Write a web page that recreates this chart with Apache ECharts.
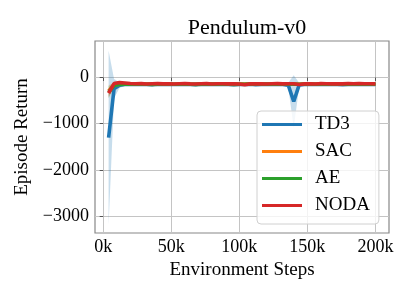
<!DOCTYPE html>
<html>
<head>
<meta charset="utf-8">
<script src="https://cdn.jsdelivr.net/npm/echarts@6/dist/echarts.min.js"></script>
<style>
html,body{margin:0;padding:0;background:#fff;}
#chart{width:415px;height:297px;}
</style>
</head>
<body>
<div id="chart"></div>
<script>
const steps = [4000,8000,12000,16000,20000,24000,28000,32000,36000,40000,44000,48000,52000,56000,60000,64000,68000,72000,76000,80000,84000,88000,92000,96000,100000,104000,108000,112000,116000,120000,124000,128000,132000,136000,140000,144000,148000,152000,156000,160000,164000,168000,172000,176000,180000,184000,188000,192000,196000,200000];
const xTicks = [0, 50000, 100000, 150000, 200000];
const yTicks = [-3000, -2000, -1000, 0];
const seriesNames = ['TD3', 'SAC', 'AE', 'NODA'];

const td3Mean = [-1300,-240,-165,-150,-148,-152,-145,-150,-155,-147,-150,-146,-152,-149,-145,-150,-153,-147,-150,-148,-152,-146,-150,-155,-148,-150,-147,-153,-149,-146,-150,-152,-148,-165,-520,-160,-150,-147,-152,-149,-146,-151,-148,-153,-150,-147,-150,-152,-148,-150];
const td3Std  = [1880,210,60,30,25,28,25,30,28,25,24,26,28,25,26,27,25,26,28,25,24,27,25,28,26,25,24,28,25,26,25,27,26,50,570,45,28,25,26,27,25,26,28,25,24,27,25,26,25,26];

const sacMean = [-290,-160,-145,-140,-142,-145,-140,-143,-146,-141,-143,-140,-145,-142,-140,-144,-146,-141,-143,-140,-145,-142,-141,-146,-143,-142,-140,-145,-143,-141,-142,-144,-141,-143,-142,-145,-141,-140,-144,-142,-140,-143,-141,-145,-142,-140,-143,-144,-141,-142];
const sacStd  = [120,50,25,20,18,20,19,18,20,19,18,20,19,18,20,19,18,20,19,18,20,19,18,20,19,18,20,19,18,20,19,18,20,19,18,20,19,18,20,19,18,20,19,18,20,19,18,20,19,18];

const aeMean = [-320,-170,-148,-144,-145,-147,-143,-146,-148,-144,-146,-143,-147,-145,-143,-146,-148,-144,-146,-143,-147,-145,-144,-148,-146,-145,-143,-147,-146,-144,-145,-147,-144,-146,-145,-147,-144,-143,-147,-145,-143,-146,-144,-147,-145,-143,-146,-147,-144,-145];
const aeStd  = [130,55,25,20,18,20,19,18,20,19,18,20,19,18,20,19,18,20,19,18,20,19,18,20,19,18,20,19,18,20,19,18,20,19,18,20,19,18,20,19,18,20,19,18,20,19,18,20,19,18];

const nodaMean = [-340,-130,-110,-118,-128,-135,-133,-140,-136,-132,-138,-135,-140,-134,-131,-137,-140,-135,-133,-139,-136,-134,-138,-135,-140,-158,-138,-134,-137,-140,-135,-133,-138,-136,-134,-150,-137,-135,-140,-133,-136,-138,-134,-137,-131,-135,-128,-136,-134,-137];
const nodaStd  = [90,40,25,18,16,18,17,16,18,17,16,18,17,16,18,17,16,18,17,16,18,17,16,18,17,22,18,17,16,18,17,16,18,17,16,22,17,16,18,17,16,18,17,16,18,17,16,18,17,16];

const colors = ['#1f77b4', '#ff7f0e', '#2ca02c', '#d62728'];
const means = [td3Mean, sacMean, aeMean, nodaMean];
const stds = [td3Std, sacStd, aeStd, nodaStd];

const FONT = "'Liberation Serif', 'Times New Roman', serif";

function bandSeries(k) {
  const mean = means[k], std = stds[k];
  return {
    type: 'custom',
    name: seriesNames[k] + ' band',
    silent: true,
    z: 2 + 2 * k,
    data: [[steps[0], mean[0]]],
    renderItem: function (params, api) {
      if (params.dataIndex !== 0) return;
      const pts = [];
      for (let i = 0; i < steps.length; i++) pts.push(api.coord([steps[i], mean[i] + std[i]]));
      for (let i = steps.length - 1; i >= 0; i--) pts.push(api.coord([steps[i], mean[i] - std[i]]));
      return { type: 'polygon', shape: { points: pts }, style: { fill: colors[k], opacity: 0.25 } };
    }
  };
}
function lineSeries(k) {
  return {
    type: 'line',
    name: seriesNames[k],
    z: 3 + 2 * k,
    symbol: 'none',
    color: colors[k],
    lineStyle: { width: 3.6, color: colors[k] },
    data: steps.map((s, i) => [s, means[k][i]])
  };
}

const series = [];
for (let k = 0; k < 4; k++) { series.push(bandSeries(k)); series.push(lineSeries(k)); }

const chart = echarts.init(document.getElementById('chart'), null, { renderer: 'canvas' });
chart.setOption({
  animation: false,
  backgroundColor: '#ffffff',
  title: {
    text: 'Pendulum-v0',
    left: 242, top: 12, textAlign: 'center',
    textStyle: { fontFamily: FONT, fontSize: 22, fontWeight: 'normal', color: '#000' }
  },
  grid: {
    left: 95, right: 26, top: 41, bottom: 64,
    show: true, borderColor: '#888', borderWidth: 1.2, backgroundColor: 'transparent'
  },
  legend: {
    data: seriesNames,
    orient: 'vertical',
    left: 257, top: 111,
    z: 20,
    icon: 'rect',
    itemWidth: 40, itemHeight: 3,
    itemGap: 8,
    padding: [4, 9, 9, 5],
    backgroundColor: 'rgba(255,255,255,0.8)',
    borderColor: '#d0d0d0', borderWidth: 1, borderRadius: 4,
    textStyle: { fontFamily: FONT, fontSize: 19, color: '#000', lineHeight: 19, padding: [0, 0, 0, 8] }
  },
  xAxis: {
    type: 'value',
    min: -6000, max: 210000,
    name: 'Environment Steps',
    nameLocation: 'middle', nameGap: 23,
    nameTextStyle: { fontFamily: FONT, fontSize: 19, color: '#000' },
    axisLine: { show: false },
    axisTick: { show: true, customValues: xTicks, length: 3.5, lineStyle: { color: '#555' } },
    axisLabel: { customValues: xTicks, margin: 5, fontFamily: FONT, fontSize: 18, color: '#000',
      formatter: v => (v / 1000) + 'k' },
    splitLine: { show: true, customValues: xTicks, lineStyle: { color: '#c4c4c4', width: 1 } }
  },
  yAxis: {
    type: 'value',
    min: -3364, max: 790,
    name: 'Episode Return',
    nameLocation: 'middle', nameGap: 54, nameRotate: 90,
    nameTextStyle: { fontFamily: FONT, fontSize: 19, color: '#000' },
    axisLine: { show: false },
    axisTick: { show: true, customValues: yTicks, length: 3.5, lineStyle: { color: '#555' } },
    axisLabel: { customValues: yTicks, margin: 6, fontFamily: FONT, fontSize: 18, color: '#000',
      formatter: v => (v < 0 ? '\u2212' + (-v) : String(v)) },
    splitLine: { show: true, customValues: yTicks, lineStyle: { color: '#c4c4c4', width: 1 } }
  },
  series: series
});
</script>
</body>
</html>
